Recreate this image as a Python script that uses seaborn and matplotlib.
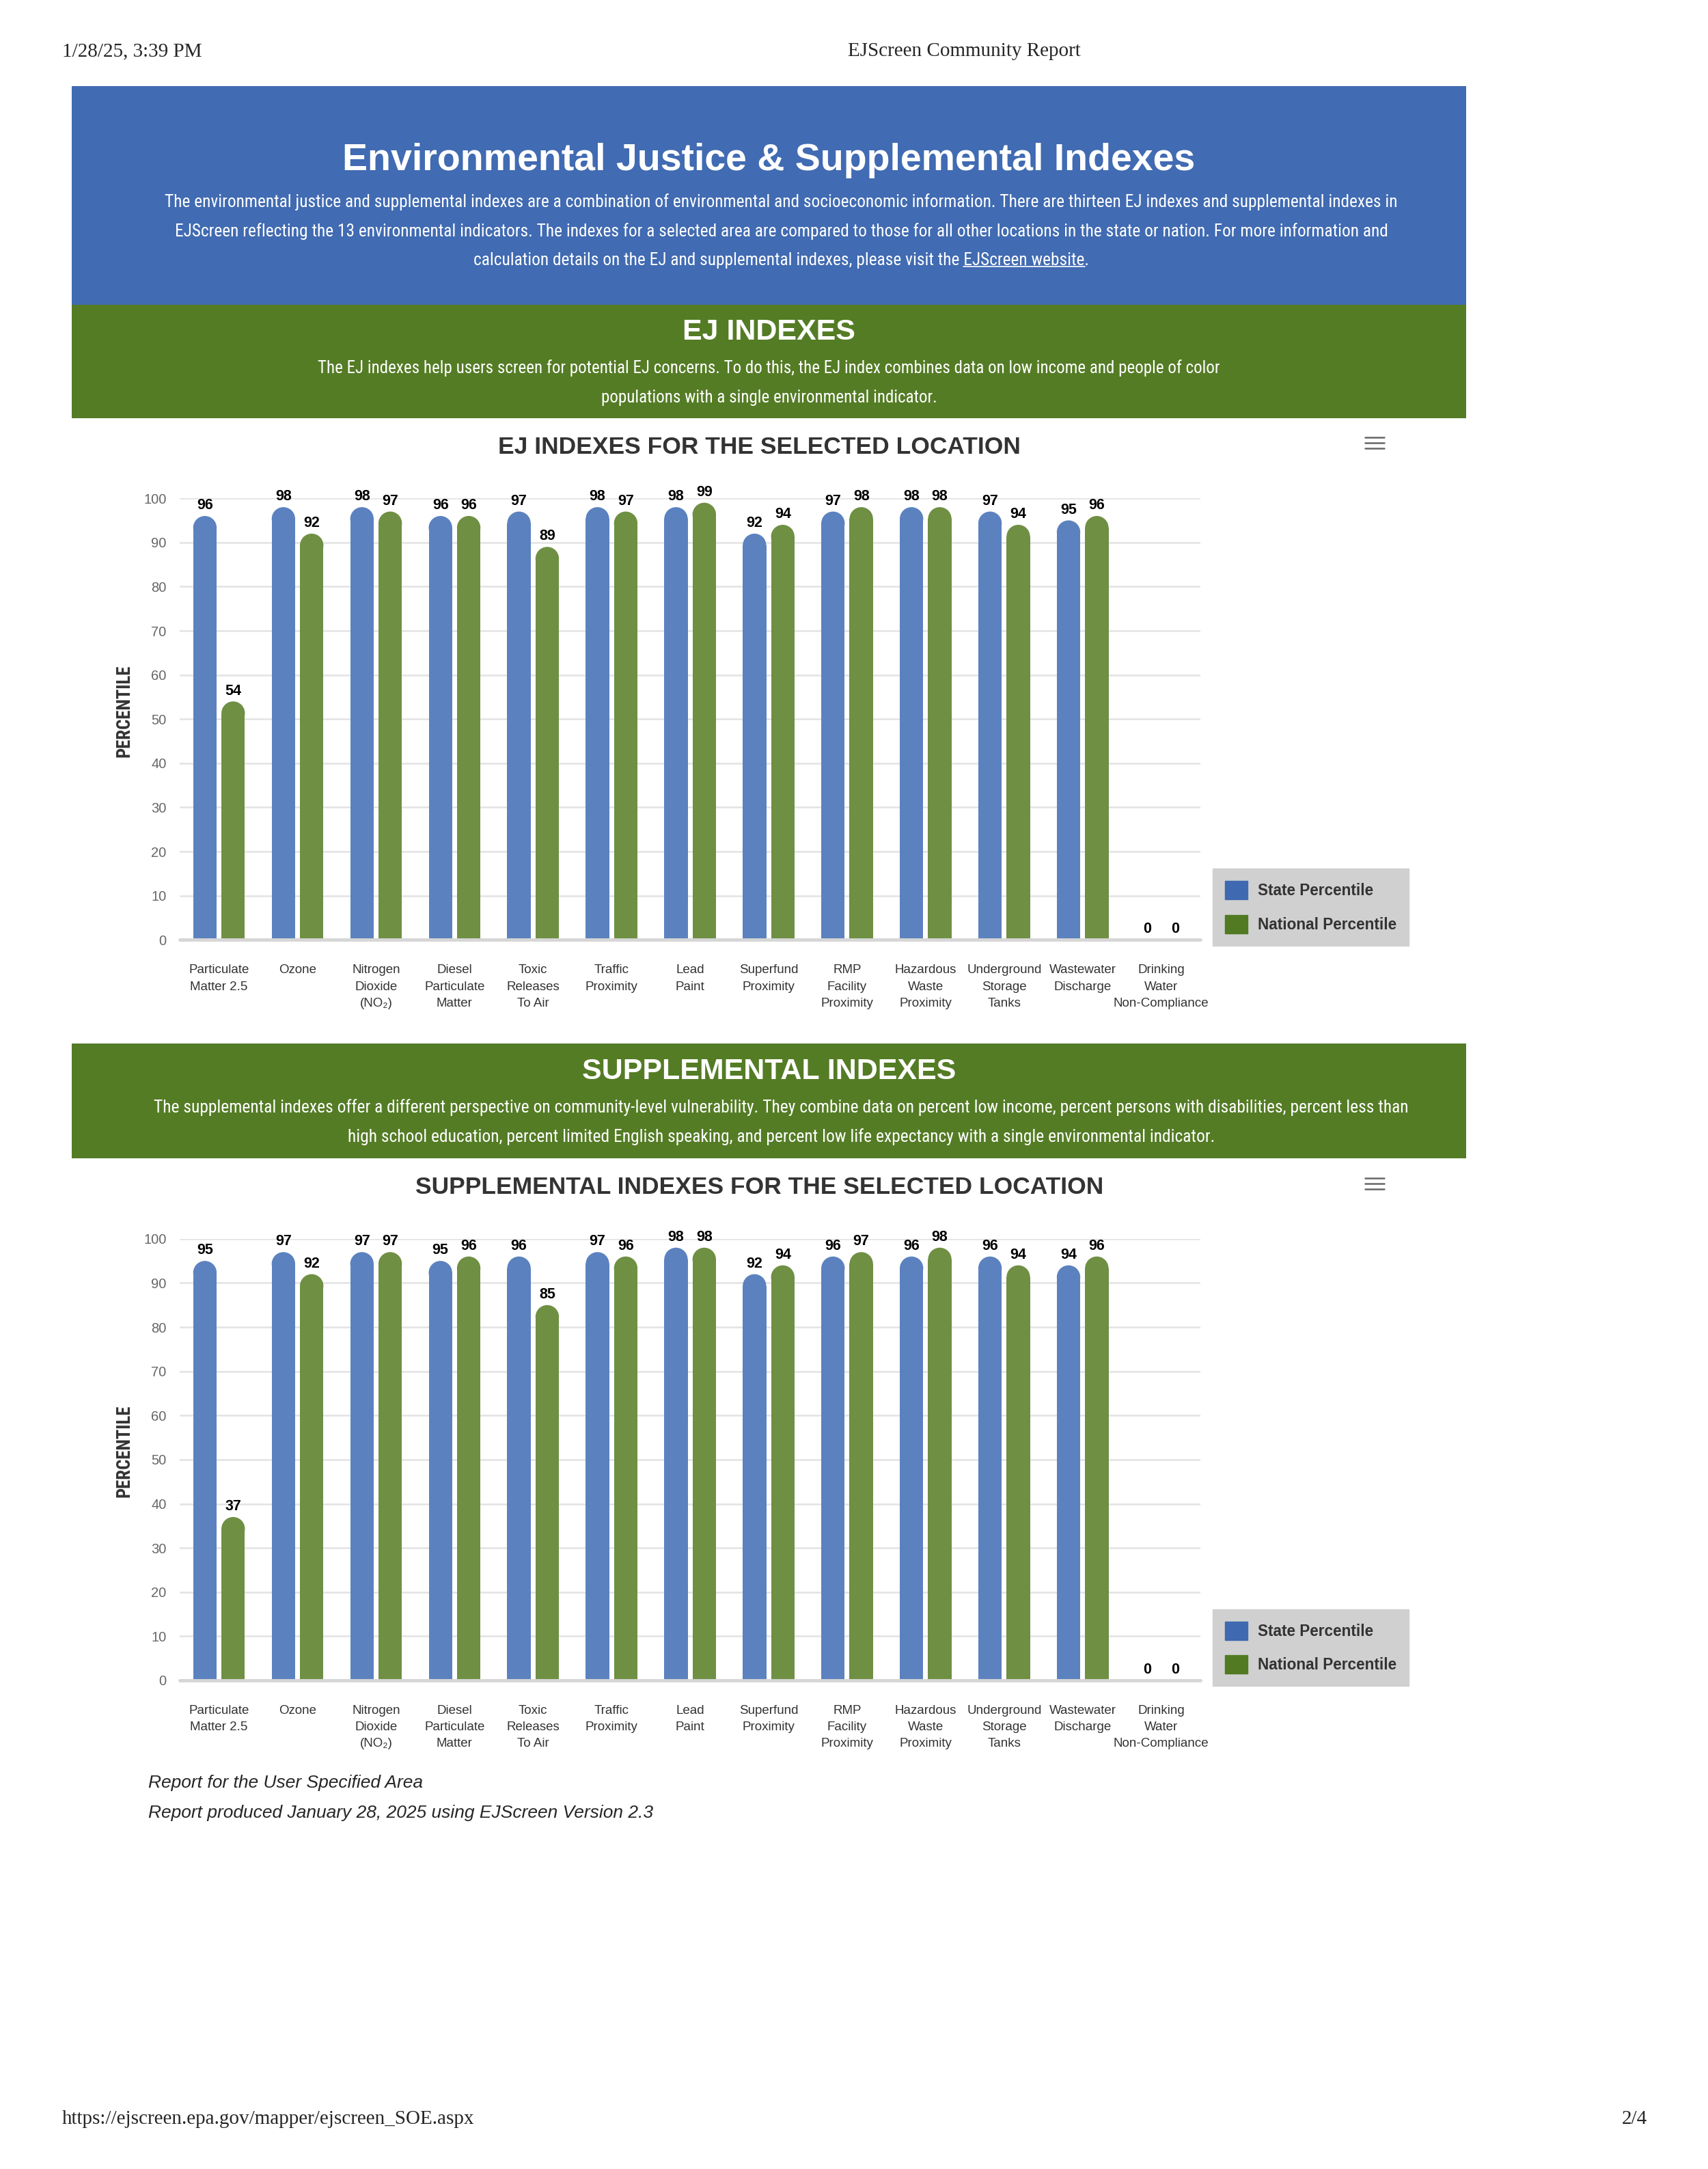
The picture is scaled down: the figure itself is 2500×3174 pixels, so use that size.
import matplotlib
matplotlib.use("Agg")
import matplotlib.pyplot as plt
import seaborn as sns
import pandas as pd
from matplotlib import font_manager
from matplotlib.patches import Rectangle, Ellipse, Patch
from matplotlib.lines import Line2D

# --- chart data ---
categories = [
    "Particulate\nMatter 2.5", "Ozone", "Nitrogen\nDioxide\n(NO\u2082)",
    "Diesel\nParticulate\nMatter", "Toxic\nReleases\nTo Air", "Traffic\nProximity",
    "Lead\nPaint", "Superfund\nProximity", "RMP\nFacility\nProximity",
    "Hazardous\nWaste\nProximity", "Underground\nStorage\nTanks",
    "Wastewater\nDischarge", "Drinking\nWater\nNon-Compliance",
]
series_names = ["State Percentile", "National Percentile"]
ej_state = [96, 98, 98, 96, 97, 98, 98, 92, 97, 98, 97, 95, 0]
ej_national = [54, 92, 97, 96, 89, 97, 99, 94, 98, 98, 94, 96, 0]
supp_state = [95, 97, 97, 95, 96, 97, 98, 92, 96, 96, 96, 94, 0]
supp_national = [37, 92, 97, 96, 85, 96, 98, 94, 97, 98, 94, 96, 0]
y_ticks = list(range(0, 101, 10))

# --- colours ---
HEAD_BLUE = "#416bb2"
HEAD_GREEN = "#547c25"
BAR_BLUE = "#5b82bf"
BAR_GREEN = "#6f8f43"
LEG_BLUE = "#3f69b0"
LEG_GREEN = "#517a23"

# pick a condensed face if one is installed
installed = sorted({f.name for f in font_manager.fontManager.ttflist})
narrow_choice = None
for cand in ["Liberation Sans Narrow", "Roboto Condensed", "Open Sans Condensed",
             "Noto Sans Condensed", "DejaVu Sans Condensed", "Arial Narrow"]:
    if cand in installed:
        narrow_choice = cand
        break
if narrow_choice is None:
    for name in installed:
        if "Condensed" in name or "Narrow" in name:
            narrow_choice = name
            break

SANS = ["Liberation Sans", "DejaVu Sans"]
NARROW = ([narrow_choice] if narrow_choice else []) + SANS
SERIF = ["Liberation Serif", "DejaVu Serif"]

sns.set_style("white")
plt.rcParams["font.family"] = SANS

fig = plt.figure(figsize=(25, 31.74), dpi=100)
renderer = fig.canvas.get_renderer()


# page layout helpers: positions measured on the page as seen at ~1235 px wide
def fx(x):
    return x / 1235.0


def fy(y):
    return 1 - y / 1567.0


def box(x0, y0, x1, y1, color):
    fig.add_artist(Rectangle((fx(x0), fy(y1)), fx(x1) - fx(x0), fy(y0) - fy(y1),
                             transform=fig.transFigure, color=color, lw=0, zorder=0))


def fit_size(text, target, base=18, weight="normal"):
    """font size so that the text spans `target` page units"""
    probe = fig.text(0, 0, text, family=NARROW, fontsize=base, fontweight=weight)
    bb = probe.get_window_extent(renderer)
    probe.remove()
    want = fx(target) * fig.bbox.width
    return base * want / bb.width


# browser print header / footer
fig.text(fx(45), fy(37), "1/28/25, 3:39 PM", family=SERIF, fontsize=21, va="center")
fig.text(fx(697), fy(37), "EJScreen Community Report", family=SERIF, fontsize=21,
         va="center", ha="center")
fig.text(fx(45), fy(1531), "https://ejscreen.epa.gov/mapper/ejscreen_SOE.aspx",
         family=SERIF, fontsize=21, va="center")
fig.text(fx(1191), fy(1531), "2/4", family=SERIF, fontsize=21, va="center", ha="right")

# blue intro box
box(52, 62, 1060, 220, HEAD_BLUE)
fig.text(fx(556), fy(116), "Environmental Justice & Supplemental Indexes", color="white",
         fontsize=40, fontweight="bold", ha="center", va="center")
intro = [
    "The environmental justice and supplemental indexes are a combination of environmental "
    "and socioeconomic information. There are thirteen EJ indexes and supplemental indexes in",
    "EJScreen reflecting the 13 environmental indicators. The indexes for a selected area are "
    "compared to those for all other locations in the state or nation. For more information and",
    "calculation details on the EJ and supplemental indexes, please visit the EJScreen website.",
]
body_size = fit_size(intro[0], 1012 - 118)
for line, yy in zip(intro, [146, 167, 188]):
    t = fig.text(fx(565), fy(yy), line, color="white", family=NARROW, fontsize=body_size,
                 ha="center", va="center")

# underline the link on the last line
full_bb = t.get_window_extent(renderer)
probe = fig.text(0, 0, intro[2][:-1], family=NARROW, fontsize=body_size)
w_upto = probe.get_window_extent(renderer).width
probe.set_text("EJScreen website")
w_link = probe.get_window_extent(renderer).width
probe.remove()
x_end = full_bb.x0 + w_upto
y_ul = full_bb.y0 + 3
fig.add_artist(Line2D([(x_end - w_link) / fig.bbox.width, x_end / fig.bbox.width],
                      [y_ul / fig.bbox.height] * 2, color="white", lw=1.2,
                      transform=fig.transFigure))


def section(y0, y1, title, lines, first_span, text_cx):
    box(52, y0, 1060, y1, HEAD_GREEN)
    fig.text(fx(556), fy(y0 + 20), title, color="white", fontsize=31, fontweight="bold",
             ha="center", va="center")
    size = fit_size(lines[0], first_span)
    for i, line in enumerate(lines):
        fig.text(fx(text_cx), fy(y0 + 46 + 21.5 * i), line, color="white", family=NARROW,
                 fontsize=size, ha="center", va="center")


section(220, 302, "EJ INDEXES", [
    "The EJ indexes help users screen for potential EJ concerns. To do this, the EJ index "
    "combines data on low income and people of color",
    "populations with a single environmental indicator.",
], 882 - 230, 556)
section(754, 837, "SUPPLEMENTAL INDEXES", [
    "The supplemental indexes offer a different perspective on community-level vulnerability. "
    "They combine data on percent low income, percent persons with disabilities, percent less than",
    "high school education, percent limited English speaking, and percent low life expectancy "
    "with a single environmental indicator.",
], 1020 - 111, 565)


def draw_chart(top, bottom, title_y, title, state, national):
    ax = fig.add_axes([fx(130), fy(bottom), fx(868) - fx(130), fy(top) - fy(bottom)])
    df = pd.DataFrame({
        "category": categories * 2,
        "value": state + national,
        "series": [series_names[0]] * len(state) + [series_names[1]] * len(national),
    })
    sns.barplot(data=df, x="category", y="value", hue="series", order=categories,
                hue_order=series_names, palette=[BAR_BLUE, BAR_GREEN], saturation=1,
                width=0.72, gap=0.17, errorbar=None, linewidth=0, legend=False, ax=ax)
    ax.set_xlim(-0.5, len(categories) - 0.5)
    ax.set_ylim(0, 100)

    for cont in ax.containers:
        ax.bar_label(cont, fmt="%d", padding=3.5, fontsize=15.5, fontweight="bold",
                     color="black", clip_on=False)

    # rounded bar tops (half circle of the bar width)
    px_x = ax.bbox.width / len(categories)
    px_y = ax.bbox.height / 100.0
    for cont in ax.containers:
        for p in cont.patches:
            h, w, x = p.get_height(), p.get_width(), p.get_x()
            if h <= 0:
                continue
            r = (w * px_x / 2) / px_y
            p.set_height(h - r)
            ax.add_patch(Ellipse((x + w / 2, h - r), w, 2 * r, facecolor=p.get_facecolor(),
                                 lw=0))

    for s in ax.spines.values():
        s.set_visible(False)
    ax.set_yticks(y_ticks)
    ax.yaxis.grid(True, color="#e3e3e3", lw=1.8)
    ax.set_axisbelow(True)
    ax.axhline(0, color="#d6d6d6", lw=3.5, clip_on=False, zorder=5)
    ax.tick_params(axis="y", length=0, pad=14, labelsize=14.5, labelcolor="#666666")
    ax.set_xticks(range(len(categories)))
    ax.set_xticklabels(categories, fontsize=13.5, color="#333333", linespacing=1.55)
    ax.set_xticks([i - 0.5 for i in range(len(categories) + 1)], minor=True)
    ax.tick_params(axis="x", which="major", length=0, pad=26)
    ax.tick_params(axis="x", which="minor", length=14, width=1.5, color="#d6d6d6")
    ax.set_xlabel("")
    ax.set_ylabel("")

    handles = [Patch(facecolor=LEG_BLUE, edgecolor=LEG_BLUE),
               Patch(facecolor=LEG_GREEN, edgecolor=LEG_GREEN)]
    leg = ax.legend(handles, series_names, loc="lower left", bbox_to_anchor=(1.012, -0.013),
                    borderaxespad=0, frameon=True, fancybox=False, facecolor="#d0d0d0",
                    edgecolor="#d0d0d0", framealpha=1, handlelength=1.45, handleheight=1.45,
                    borderpad=0.8, labelspacing=1.0, handletextpad=0.65,
                    prop={"weight": "bold", "size": 16.3, "family": SANS})
    for txt in leg.get_texts():
        txt.set_color("#333333")

    fig.text(fx(90), fy((top + bottom) / 2 - 6), "PERCENTILE", rotation=90, family=NARROW,
             fontweight="bold", fontsize=fit_size("PERCENTILE", 67, weight="bold"),
             color="#333333", ha="center", va="center")
    fig.text(fx(549), fy(title_y), title, fontsize=25.5, fontweight="bold", color="#333333",
             ha="center", va="center")
    # export menu icon
    for dy in (-4, 0, 4):
        fig.add_artist(Line2D([fx(987), fx(1001)], [fy(title_y - 3 + dy)] * 2, color="#666666",
                              lw=1.8, transform=fig.transFigure))
    return ax


draw_chart(360, 679, 323, "EJ INDEXES FOR THE SELECTED LOCATION", ej_state, ej_national)
draw_chart(895, 1214, 858, "SUPPLEMENTAL INDEXES FOR THE SELECTED LOCATION",
           supp_state, supp_national)

fig.text(fx(107), fy(1288), "Report for the User Specified Area", fontsize=19,
         style="italic", va="center")
fig.text(fx(107), fy(1310), "Report produced January 28, 2025 using EJScreen Version 2.3",
         fontsize=19, style="italic", va="center")

fig.savefig("out.png", dpi=100, facecolor="white")
